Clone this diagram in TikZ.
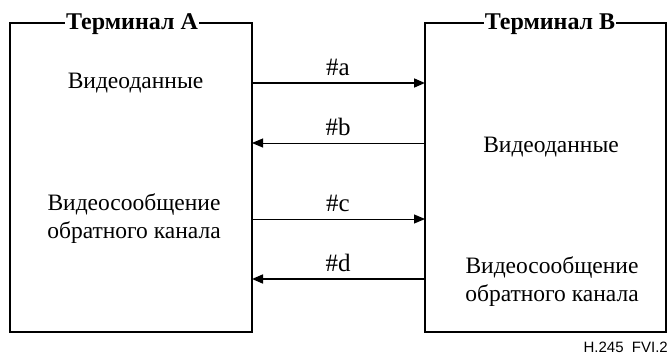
\documentclass[tikz,border=0pt]{standalone}
\usepackage{fontspec}
\setmainfont{Liberation Serif}
\newfontfamily\serifface{Liberation Serif}
\newfontfamily\labelsans{Liberation Sans}
\usetikzlibrary{arrows.meta}
\begin{document}
\begin{tikzpicture}[x=1pt,y=-1pt,
  termbox/.style={draw,line width=1.1pt},
  ttl/.style={font=\serifface\fontsize{24}{28}\selectfont\bfseries,fill=white,inner sep=1pt,anchor=base},
  txt/.style={font=\serifface\fontsize{23.5}{28}\selectfont,align=center,inner sep=0pt,anchor=base},
  lbl/.style={font=\serifface\fontsize{25}{28}\selectfont,inner sep=0pt,anchor=base},
  sig/.style={-{Triangle[length=11pt,width=9pt]},line width=1.1pt}]
\useasboundingbox (0,0) rectangle (670,356);
\draw[termbox] (10,23) rectangle (252,332);
\draw[termbox] (425,23) rectangle (666,332);
\node[ttl] (ta) at (132,30) {Терминал A};
\node[ttl] (tb) at (550,30) {Терминал B};
\node[txt] (va) at (135.5,88) {Видеоданные};
\node[txt] (vb) at (551,152) {Видеоданные};
\node[txt] (ma) at (134,210) {Видеосообщение};
\node[txt] (ma2) at (134,238) {обратного канала};
\node[txt] (mb) at (552,273) {Видеосообщение};
\node[txt] (mb2) at (552,301) {обратного канала};
\coordinate (a1) at (252,83); \coordinate (a2) at (425,83);
\coordinate (b1) at (425,143); \coordinate (b2) at (252,143);
\coordinate (c1) at (252,219); \coordinate (c2) at (425,219);
\coordinate (d1) at (425,279); \coordinate (d2) at (252,279);
\draw[sig,line width=1.6pt] (a1) -- (a2);
\draw[sig,line width=1pt] (b1) -- (b2);
\draw[sig,line width=1pt] (c1) -- (c2);
\draw[sig,line width=1.6pt] (d1) -- (d2);
\node[lbl] (la) at (338,75) {\#a};
\node[lbl] (lb) at (338,135) {\#b};
\node[lbl] (lc) at (338,211) {\#c};
\node[lbl] (ld) at (338,271) {\#d};
\node[anchor=base east,inner sep=0pt,font=\labelsans\fontsize{15}{18}\selectfont] (fig) at (668,352) {H.245\ \ FVI.2};
\end{tikzpicture}
\end{document}
